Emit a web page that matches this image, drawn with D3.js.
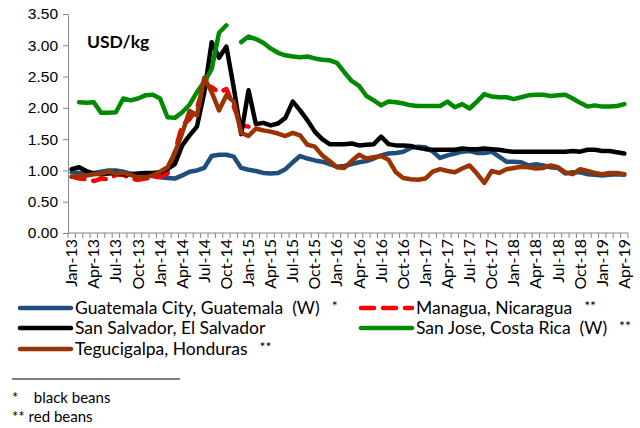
<!DOCTYPE html>
<html>
<head>
<meta charset="utf-8">
<script src="https://cdn.jsdelivr.net/npm/d3@7"></script>
<style>
  body { margin: 0; background: #fff; }
  svg { display: block; font-family: Lato, 'Noto Sans', sans-serif; }
  .axis path, .axis line { stroke: #868686; }
  .axis text { fill: #000; }
</style>
</head>
<body>
<div id="chart"></div>
<script>
// monthly categories Jan-13 .. Apr-19
var months = d3.timeMonths(new Date(2013, 0, 1), new Date(2019, 4, 1));
var fmt = d3.timeFormat('%b-%y');
var categories = months.map(function (d) { return fmt(d); });

var guatemala = [
  0.97, 0.96, 0.96, 0.96, 0.98, 1.00, 1.00, 0.98, 0.95, 0.94, 0.93, 0.91,
  0.89, 0.88, 0.87, 0.92, 0.98, 1.00, 1.04, 1.23, 1.25, 1.25, 1.22, 1.04,
  1.01, 0.99, 0.96, 0.95, 0.96, 1.02, 1.13, 1.23, 1.19, 1.16, 1.14, 1.10,
  1.06, 1.07, 1.10, 1.13, 1.15, 1.19, 1.24, 1.27, 1.28, 1.30, 1.36, 1.38,
  1.37, 1.30, 1.20, 1.24, 1.27, 1.30, 1.31, 1.28, 1.28, 1.30, 1.22, 1.14,
  1.14, 1.13, 1.08, 1.10, 1.08, 1.05, 1.04, 0.95, 0.97, 0.97, 0.94, 0.93,
  0.92, 0.93, 0.94, 0.93
];
var managua = [
  0.90, 0.87, 0.86, 0.83, 0.87, 0.86, 0.93, 0.93, 0.87, 0.85, 0.87, 0.89,
  0.90, 0.95, 1.30, 1.72, 1.82, 2.00, 2.38, 2.33, 2.25, 2.30, 2.02, 1.72,
  1.70
];
var sanSalvador = [
  1.02, 1.05, 0.99, 0.95, 0.94, 0.95, 0.96, 0.94, 0.93, 0.95, 0.96, 0.96,
  0.97, 1.02, 1.10, 1.40, 1.56, 1.70, 2.25, 3.05, 2.80, 2.98, 2.32, 1.58,
  2.28, 1.74, 1.76, 1.72, 1.75, 1.84, 2.10, 1.96, 1.80, 1.62, 1.50, 1.42,
  1.42, 1.42, 1.43, 1.40, 1.41, 1.42, 1.54, 1.42, 1.40, 1.40, 1.39, 1.36,
  1.34, 1.33, 1.33, 1.33, 1.33, 1.35, 1.34, 1.34, 1.35, 1.34, 1.33, 1.31,
  1.30, 1.30, 1.30, 1.30, 1.30, 1.30, 1.30, 1.30, 1.31, 1.30, 1.33, 1.33,
  1.31, 1.31, 1.29, 1.27
];
var sanJose = [
  null, 2.09, 2.08, 2.09, 1.92, 1.92, 1.93, 2.15, 2.12, 2.15, 2.20, 2.21,
  2.15, 1.85, 1.84, 1.93, 2.05, 2.25, 2.42, 2.62, 3.20, 3.32, null, 3.05,
  3.14, 3.10, 3.04, 2.95, 2.88, 2.84, 2.82, 2.81, 2.82, 2.79, 2.77, 2.76,
  2.72, 2.57, 2.43, 2.35, 2.19, 2.12, 2.04, 2.10, 2.09, 2.07, 2.04, 2.03,
  2.03, 2.03, 2.03, 2.10, 2.01, 2.06, 1.99, 2.10, 2.22, 2.18, 2.17, 2.17,
  2.14, 2.17, 2.20, 2.21, 2.21, 2.19, 2.20, 2.21, 2.15, 2.08, 2.02, 2.04,
  2.02, 2.02, 2.03, 2.06
];
var tegucigalpa = [
  0.90, 0.91, 0.92, 0.94, 0.95, 0.98, 0.95, 0.96, 0.93, 0.89, 0.89, 0.92,
  0.98, 1.05, 1.28, 1.60, 1.95, 1.88, 2.48, 2.25, 1.96, 2.20, 2.10, 1.60,
  1.55, 1.67, 1.64, 1.62, 1.59, 1.55, 1.60, 1.56, 1.41, 1.38, 1.24, 1.15,
  1.05, 1.04, 1.15, 1.25, 1.19, 1.21, 1.23, 1.17, 0.97, 0.88, 0.86, 0.85,
  0.87, 0.98, 1.02, 0.99, 0.97, 1.03, 1.08, 0.95, 0.80, 0.99, 0.96, 1.02,
  1.04, 1.06, 1.05, 1.03, 1.04, 1.08, 1.05, 0.97, 0.94, 1.02, 0.99, 0.96,
  0.94, 0.96, 0.96, 0.94
];

var seriesNames = [
  'Guatemala City, Guatemala  (W)',
  'Managua, Nicaragua',
  'San Salvador, El Salvador',
  'San Jose, Costa Rica  (W)',
  'Tegucigalpa, Honduras'
];
var seriesNotes = ['*', '**', '', '**', '**'];
var seriesValues = [guatemala, managua, sanSalvador, sanJose, tegucigalpa];
var seriesColors = ['#1f4e7d', '#ff0000', '#000000', '#008a00', '#993300'];
var yTicks = [0, 0.5, 1, 1.5, 2, 2.5, 3, 3.5];
var footnotes = ['*    black beans', '** red beans'];

var width = 640, height = 428;
var plot = { left: 68, right: 628, top: 14, bottom: 233 };

var svg = d3.select('#chart').append('svg')
  .attr('width', width).attr('height', height);
svg.append('rect').attr('width', width).attr('height', height).attr('fill', '#fff');

var x = d3.scaleBand().domain(categories).range([plot.left, plot.right]).padding(0);
var y = d3.scaleLinear().domain([0, 3.5]).range([plot.bottom, plot.top]);

// y axis
var yAxis = svg.append('g').attr('class', 'axis')
  .attr('transform', 'translate(' + plot.left + ',0)')
  .call(d3.axisLeft(y).tickValues(yTicks).tickSize(5).tickSizeOuter(0).tickPadding(5)
    .tickFormat(d3.format('.2f')));
yAxis.selectAll('text').attr('font-size', 15.5);

// x axis: line, ticks between categories, labels every 3rd month
var xAxis = svg.append('g').attr('class', 'axis')
  .attr('transform', 'translate(0,' + plot.bottom + ')');
xAxis.append('line').attr('x1', plot.left).attr('x2', plot.right);
var edges = categories.map(function (c) { return x(c); }).concat([plot.right]);
xAxis.selectAll('line.tk').data(edges).enter().append('line')
  .attr('class', 'tk')
  .attr('x1', function (d) { return d; }).attr('x2', function (d) { return d; })
  .attr('y1', 0).attr('y2', 5);
xAxis.selectAll('text').data(categories.filter(function (c, i) { return i % 3 === 0; }))
  .enter().append('text')
  .attr('transform', function (d) {
    return 'translate(' + (x(d) + x.bandwidth() / 2 + 5.5) + ',6) rotate(-90)';
  })
  .attr('text-anchor', 'end')
  .attr('font-size', 16)
  .text(function (d) { return d; });

// lines
var line = d3.line()
  .defined(function (d) { return d != null; })
  .x(function (d, i) { return x(categories[i]) + x.bandwidth() / 2; })
  .y(function (d) { return y(d); });

seriesValues.forEach(function (vals, k) {
  svg.append('path')
    .attr('d', line(vals))
    .attr('fill', 'none')
    .attr('stroke', seriesColors[k])
    .attr('stroke-width', 4.5)
    .attr('stroke-linejoin', 'round')
    .attr('stroke-linecap', 'round')
    .attr('stroke-dasharray', k === 1 ? '13,9' : null);
});

svg.append('text')
  .attr('x', 87).attr('y', 48)
  .attr('font-size', 17.5).attr('font-weight', 'bold')
  .text('USD/kg');

// legend
var legendPos = [
  { x: 20, y: 308 }, { x: 361, y: 308 },
  { x: 20, y: 328 }, { x: 361, y: 328 },
  { x: 20, y: 349 }
];
var legend = svg.append('g');
seriesNames.forEach(function (name, k) {
  var p = legendPos[k];
  legend.append('line')
    .attr('x1', p.x).attr('x2', p.x + 51)
    .attr('y1', p.y).attr('y2', p.y)
    .attr('stroke', seriesColors[k]).attr('stroke-width', 4.5)
    .attr('stroke-linecap', 'round')
    .attr('stroke-dasharray', k === 1 ? '13,9' : null);
  var t = legend.append('text')
    .attr('x', p.x + 55).attr('y', p.y + 6)
    .attr('font-size', 17.5)
    .attr('xml:space', 'preserve')
    .text(name);
  if (seriesNotes[k]) {
    var w = t.node().getComputedTextLength();
    legend.append('text')
      .attr('x', p.x + 55 + w + 12).attr('y', p.y + 3)
      .attr('font-size', 14)
      .text(seriesNotes[k]);
  }
});

svg.append('line')
  .attr('x1', 12).attr('x2', 180).attr('y1', 379).attr('y2', 379)
  .attr('stroke', '#000').attr('stroke-width', 1);

footnotes.forEach(function (f, i) {
  svg.append('text')
    .attr('x', 12).attr('y', 403 + i * 19)
    .attr('font-size', 15)
    .attr('xml:space', 'preserve')
    .text(f);
});
</script>
</body>
</html>
